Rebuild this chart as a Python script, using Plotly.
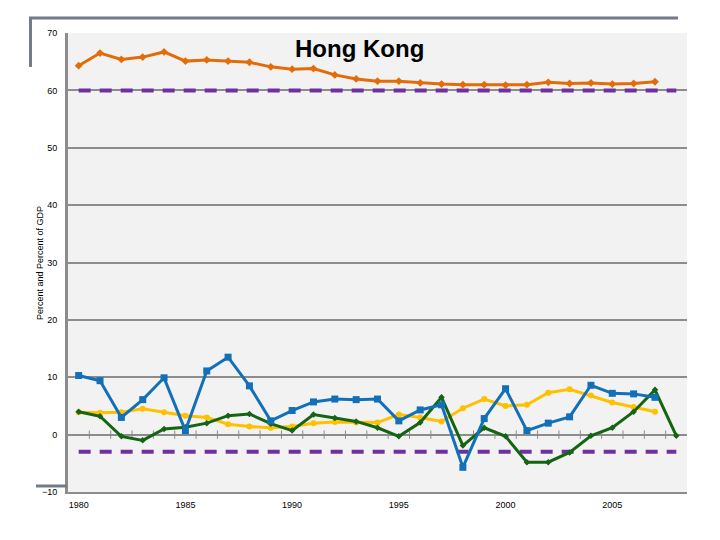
import plotly.graph_objects as go

years = list(range(1980, 2009))
years_to2007 = list(range(1980, 2008))

orange_vals = [64.3, 66.5, 65.4, 65.8, 66.7, 65.1, 65.3, 65.1, 64.9, 64.1,
               63.7, 63.8, 62.7, 62.0, 61.6, 61.6, 61.3, 61.1, 61.0, 61.0,
               60.9, 61.0, 61.4, 61.2, 61.3, 61.1, 61.2, 61.5]
blue_vals = [10.3, 9.4, 3.0, 6.1, 9.9, 0.7, 11.1, 13.5, 8.5, 2.4,
             4.2, 5.7, 6.2, 6.1, 6.2, 2.4, 4.3, 5.2, -5.7, 2.8,
             8.0, 0.7, 2.0, 3.1, 8.6, 7.2, 7.1, 6.5]
green_vals = [4.0, 3.2, -0.3, -1.0, 1.0, 1.3, 2.0, 3.3, 3.6, 1.9,
              0.7, 3.5, 2.9, 2.3, 1.2, -0.3, 2.1, 6.5, -1.9, 1.2,
              -0.3, -4.8, -4.8, -3.1, -0.2, 1.2, 4.0, 7.8, -0.2]
yellow_vals = [3.9, 3.8, 3.9, 4.5, 3.9, 3.3, 3.0, 1.8, 1.4, 1.2,
               1.4, 2.0, 2.2, 2.1, 2.1, 3.5, 3.0, 2.3, 4.6, 6.2,
               5.0, 5.2, 7.3, 7.9, 6.8, 5.6, 4.8, 4.0]
upper_ref = [60] * len(years)
lower_ref = [-3] * len(years)

x_ticks = [1980, 1985, 1990, 1995, 2000, 2005]
y_ticks = [-10, 0, 10, 20, 30, 40, 50, 60, 70]

# page body margin offsets the figure by 8px
OFF = 8
PL, PR, PT, PB = 68, 687, 33, 492  # plot area in window pixels
pw = PR - PL
ph = PB - PT

fig = go.Figure()

bounds = [y + 0.5 for y in years[:-1]]
fig.add_trace(go.Scatter(x=bounds, y=[0] * len(bounds), mode="markers",
                         marker=dict(symbol="line-ns", size=6,
                                     line=dict(color="#8C8C8C", width=1)),
                         hoverinfo="skip", showlegend=False))

fig.add_trace(go.Scatter(x=years, y=upper_ref, mode="lines",
                         line=dict(color="#7030A0", width=4, dash="12px,9px"),
                         showlegend=False))
fig.add_trace(go.Scatter(x=years, y=lower_ref, mode="lines",
                         line=dict(color="#7030A0", width=4, dash="12px,9px"),
                         showlegend=False))

fig.add_trace(go.Scatter(x=years_to2007, y=orange_vals, mode="lines+markers",
                         line=dict(color="#E36C09", width=3),
                         marker=dict(symbol="diamond", size=6, color="#E36C09"),
                         showlegend=False))
fig.add_trace(go.Scatter(x=years_to2007, y=yellow_vals, mode="lines+markers",
                         line=dict(color="#FFC000", width=3),
                         marker=dict(symbol="circle", size=6, color="#FFC000"),
                         showlegend=False))
fig.add_trace(go.Scatter(x=years, y=green_vals, mode="lines+markers",
                         line=dict(color="#146414", width=3),
                         marker=dict(symbol="diamond", size=5, color="#146414"),
                         showlegend=False))
fig.add_trace(go.Scatter(x=years_to2007, y=blue_vals, mode="lines+markers",
                         line=dict(color="#1170B8", width=3),
                         marker=dict(symbol="square", size=7, color="#1170B8"),
                         showlegend=False))


def px_x(x):
    return (x - PL) / pw


def px_y(y):
    return (PB - y) / ph


fig.update_layout(
    width=720, height=540,
    margin=dict(l=PL - OFF, r=720 - PR + OFF, t=PT - OFF, b=540 - PB + OFF),
    paper_bgcolor="white",
    plot_bgcolor="#F2F2F2",
    font=dict(family="Liberation Sans, Arial, sans-serif", size=9, color="black"),
    xaxis=dict(range=[1979.5, 2008.5], tickvals=x_ticks,
               ticktext=[str(v) for v in x_ticks],
               showgrid=False, zeroline=False,
               showline=True, linecolor="#8C8C8C", linewidth=2,
               ticks="outside", ticklen=3, tickcolor="rgba(0,0,0,0)",
               tickfont=dict(size=9)),
    yaxis=dict(range=[-10, 70], tickvals=y_ticks,
               showgrid=True, gridcolor="#8C8C8C", gridwidth=2,
               zeroline=False,
               showline=True, linecolor="#8C8C8C", linewidth=3,
               ticks="outside", ticklen=6, tickcolor="rgba(0,0,0,0)",
               tickfont=dict(size=9)),
    annotations=[
        dict(text="<b>Hong Kong</b>", x=px_x(359), y=px_y(48),
             xref="paper", yref="paper", showarrow=False,
             xanchor="center", yanchor="middle",
             font=dict(size=24, family="Liberation Sans, Arial, sans-serif")),
        dict(text="Percent and Percent of GDP", x=px_x(40), y=px_y(263),
             xref="paper", yref="paper", showarrow=False, textangle=-90,
             xanchor="center", yanchor="middle", font=dict(size=9)),
    ],
)

deco = "#737B86"
fig.add_shape(type="line", xref="paper", yref="paper",
              x0=px_x(29), x1=px_x(678), y0=px_y(18), y1=px_y(18),
              line=dict(color=deco, width=3))
fig.add_shape(type="line", xref="paper", yref="paper",
              x0=px_x(30.5), x1=px_x(30.5), y0=px_y(17), y1=px_y(67),
              line=dict(color=deco, width=3))
fig.add_shape(type="line", xref="paper", yref="paper",
              x0=px_x(36), x1=px_x(67), y0=px_y(486), y1=px_y(486),
              line=dict(color=deco, width=3))

fig.write_html("out.html")
